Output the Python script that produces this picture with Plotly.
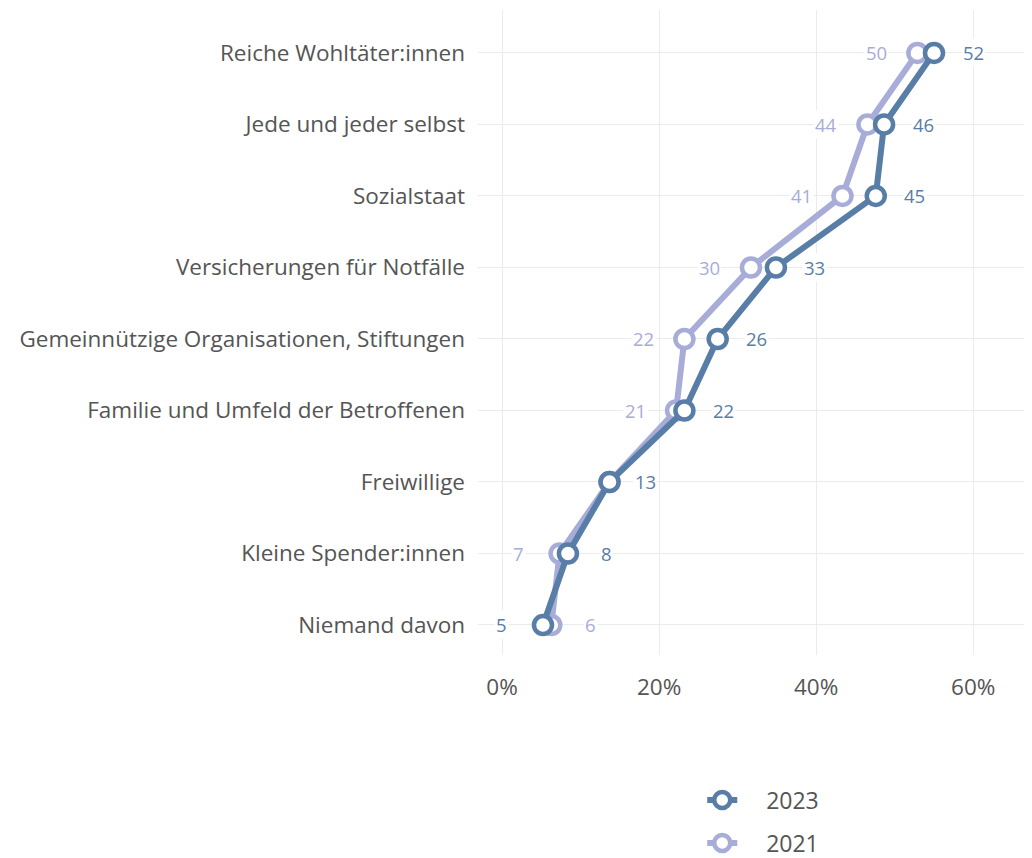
import plotly.graph_objects as go

categories = ["Reiche Wohltäter:innen", "Jede und jeder selbst", "Sozialstaat",
              "Versicherungen für Notfälle", "Gemeinnützige Organisationen, Stiftungen",
              "Familie und Umfeld der Betroffenen", "Freiwillige", "Kleine Spender:innen",
              "Niemand davon"]
v2023 = [52, 46, 45, 33, 26, 22, 13, 8, 5]
v2021 = [50, 44, 41, 30, 22, 21, 13, 7, 6]
tick_vals = [0, 20, 40, 60]
tick_text = ["0%", "20%", "40%", "60%"]

c23 = "#587da6"
c21 = "#a8acd8"
font = "Open Sans"
pad = "\u00a0\u00a0\u00a0\u00a0"

n = len(categories)
ypos = [n - 1 - i for i in range(n)]

fig = go.Figure()
# invisible trace on the tick axis so its grid is drawn
fig.add_trace(go.Scatter(x=tick_vals, y=[ypos[0]] * len(tick_vals), mode="markers",
                         marker=dict(opacity=0), showlegend=False, hoverinfo="skip",
                         xaxis="x", yaxis="y"))
for name, vals, col, lg in [("2021", v2021, c21, "legend2"), ("2023", v2023, c23, "legend")]:
    fig.add_trace(go.Scatter(
        x=vals, y=ypos, mode="lines+markers", name=pad + name, legend=lg,
        xaxis="x2", yaxis="y",
        line=dict(color=col, width=6),
        marker=dict(symbol="circle", size=18, color="white", line=dict(color=col, width=4.5)),
        hovertemplate=name + ": %{x}<extra></extra>"))

anns = []
for i in range(n):
    a, b = v2023[i], v2021[i]
    if a == b:
        anns.append(dict(x=a, y=ypos[i], text=str(a), xshift=36, color=c23))
        continue
    hi, lo = (a, b) if a > b else (b, a)
    hic = c23 if a > b else c21
    loc = c21 if a > b else c23
    anns.append(dict(x=hi, y=ypos[i], text=str(hi), xshift=39, color=hic))
    anns.append(dict(x=lo, y=ypos[i], text=str(lo), xshift=-41, color=loc))

for an in anns:
    fig.add_annotation(x=an["x"], y=an["y"], xref="x2", yref="y", text=an["text"],
                       xshift=an["xshift"], showarrow=False,
                       font=dict(color=an["color"], size=18.5, family=font),
                       bgcolor="white", borderpad=1)

fig.update_layout(
    width=1032, height=858,
    margin=dict(l=470, r=0, t=2, b=211, autoexpand=False),
    paper_bgcolor="white", plot_bgcolor="white",
    font=dict(family=font, color="#555555", size=22.5),
    xaxis=dict(range=[-3.06, 68.5], tickvals=tick_vals, ticktext=tick_text,
               showgrid=True, gridcolor="#ebebeb", gridwidth=1.2, zeroline=False,
               showline=False, ticks="", ticklabelstandoff=16,
               tickfont=dict(size=22.5, color="#555555")),
    xaxis2=dict(range=[-2.81, 64.74], overlaying="x", side="bottom", visible=False,
                showgrid=False, zeroline=False),
    yaxis=dict(range=[-0.42, 8.6], tickvals=ypos, ticktext=categories,
               showgrid=True, gridcolor="#ebebeb", gridwidth=1.2, zeroline=False,
               showline=False, ticks="", ticklabelstandoff=12,
               tickfont=dict(size=22.5, color="#555555")),
    legend=dict(x=0.399, xanchor="left", y=-0.2248, yanchor="middle",
                font=dict(size=23, color="#555555")),
    legend2=dict(x=0.399, xanchor="left", y=-0.2915, yanchor="middle",
                 font=dict(size=23, color="#555555")),
    showlegend=True,
)

fig.write_html("out.html")
